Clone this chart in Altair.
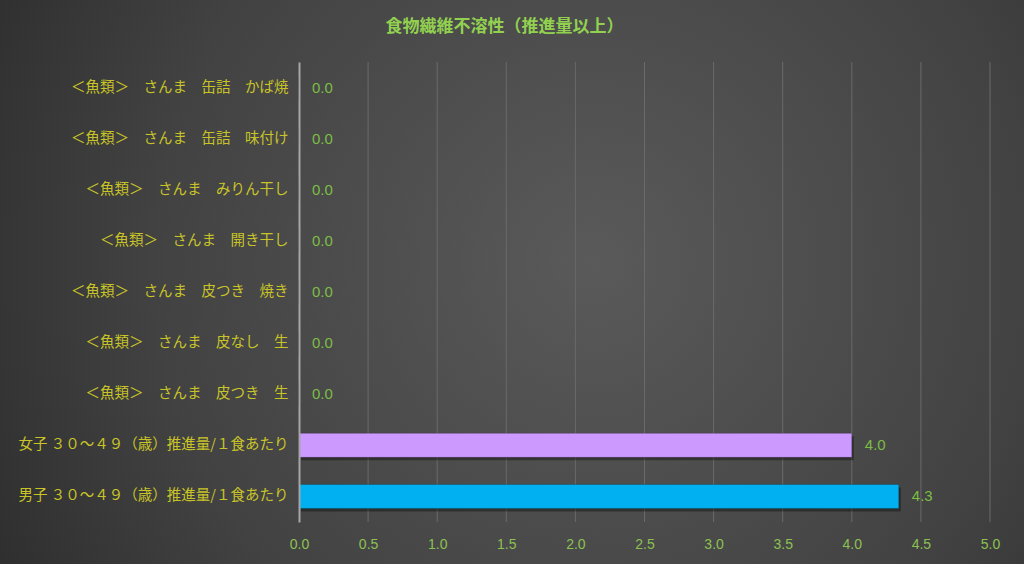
import altair as alt
import pandas as pd

categories = [
    "＜魚類＞　さんま　缶詰　かば焼",
    "＜魚類＞　さんま　缶詰　味付け",
    "＜魚類＞　さんま　みりん干し",
    "＜魚類＞　さんま　開き干し",
    "＜魚類＞　さんま　皮つき　焼き",
    "＜魚類＞　さんま　皮なし　生",
    "＜魚類＞　さんま　皮つき　生",
    "女子 ３０～４９（歳）推進量/１食あたり",
    "男子 ３０～４９（歳）推進量/１食あたり",
]
values = [0.0, 0.0, 0.0, 0.0, 0.0, 0.0, 0.0, 4.0, 4.34]
bar_colors = ["#4472c4"] * 7 + ["#cc99ff", "#00b0f0"]
grid_ticks = [0.0, 0.5, 1.0, 1.5, 2.0, 2.5, 3.0, 3.5, 4.0, 4.5, 5.0]

df = pd.DataFrame({"cat": categories, "val": values, "color": bar_colors})
grid_df = pd.DataFrame({"g": grid_ticks})

W, H = 691, 460
PL, PT, PR, PB = 299, 62, 34, 42

yaxis = alt.Axis(
    title=None,
    ticks=False,
    domainColor="#a6a6a6",
    domainWidth=2,
    labelColor="#c8c428",
    labelFont="Noto Sans CJK JP",
    labelFontSize=14.5,
    labelPadding=11,
    labelLimit=400,
    zindex=1,
)
yenc = alt.Y(
    "cat:N",
    sort=categories,
    scale=alt.Scale(paddingInner=0.53, paddingOuter=0.265),
    axis=yaxis,
)
xscale = alt.Scale(domain=[0, 5], nice=False)
xaxis = alt.Axis(
    title=None,
    values=grid_ticks,
    format=".1f",
    grid=False,
    ticks=False,
    domain=False,
    labelFlush=False,
    labelColor="#8cc152",
    labelFont="Liberation Sans",
    labelFontSize=14,
    labelPadding=15,
    zindex=1,
)
xenc = alt.X("val:Q", scale=xscale, axis=xaxis)

bg = alt.Chart(alt.Data(values=[{"a": 1}])).mark_rect(
    fill=alt.Gradient(
        gradient="radial",
        stops=[
            alt.GradientStop(color="#5a5a5a", offset=0),
            alt.GradientStop(color="#424242", offset=0.55),
            alt.GradientStop(color="#242424", offset=1),
        ],
        x1=0.58, y1=0.48, r1=0.0,
        x2=0.58, y2=0.48, r2=0.78,
    )
).encode(
    x=alt.value(-PL), x2=alt.value(W + PR),
    y=alt.value(-PT), y2=alt.value(H + PB),
)

grid = alt.Chart(grid_df).transform_filter("datum.g > 0").mark_rule(
    color="#6a6a6a", strokeWidth=1
).encode(
    x=alt.X("g:Q", scale=xscale, axis=xaxis),
    y=alt.value(0), y2=alt.value(H),
)

shadow = alt.Chart(df).mark_bar(
    color="#000000", opacity=0.35, xOffset=2, yOffset=3
).encode(x=xenc, y=yenc)

bars = alt.Chart(df).mark_bar(
    stroke="#000000", strokeOpacity=0.2, strokeWidth=1
).encode(
    x=xenc, y=yenc,
    color=alt.Color("color:N", scale=None, legend=None),
)

labels = alt.Chart(df).mark_text(
    align="left", baseline="middle", dx=13,
    color="#7cbd45", font="Liberation Sans", fontSize=15,
).encode(
    x=xenc, y=yenc,
    text=alt.Text("val:Q", format=".1f"),
)

chart = alt.layer(bg, grid, shadow, bars, labels).properties(
    width=W,
    height=H,
    padding={"left": PL, "top": PT, "right": PR, "bottom": PB},
    autosize=alt.AutoSizeParams(type="none"),
    background="#333333",
    title=alt.TitleParams(
        text="食物繊維不溶性（推進量以上）",
        color="#92d050",
        font="Noto Sans CJK JP",
        fontSize=17,
        fontWeight="bold",
        anchor="middle",
        dx=-140,
        offset=-36,
        zindex=1,
    ),
).configure_view(stroke=None)

chart.save("out.html", embed_options={"renderer": "svg", "actions": False})
